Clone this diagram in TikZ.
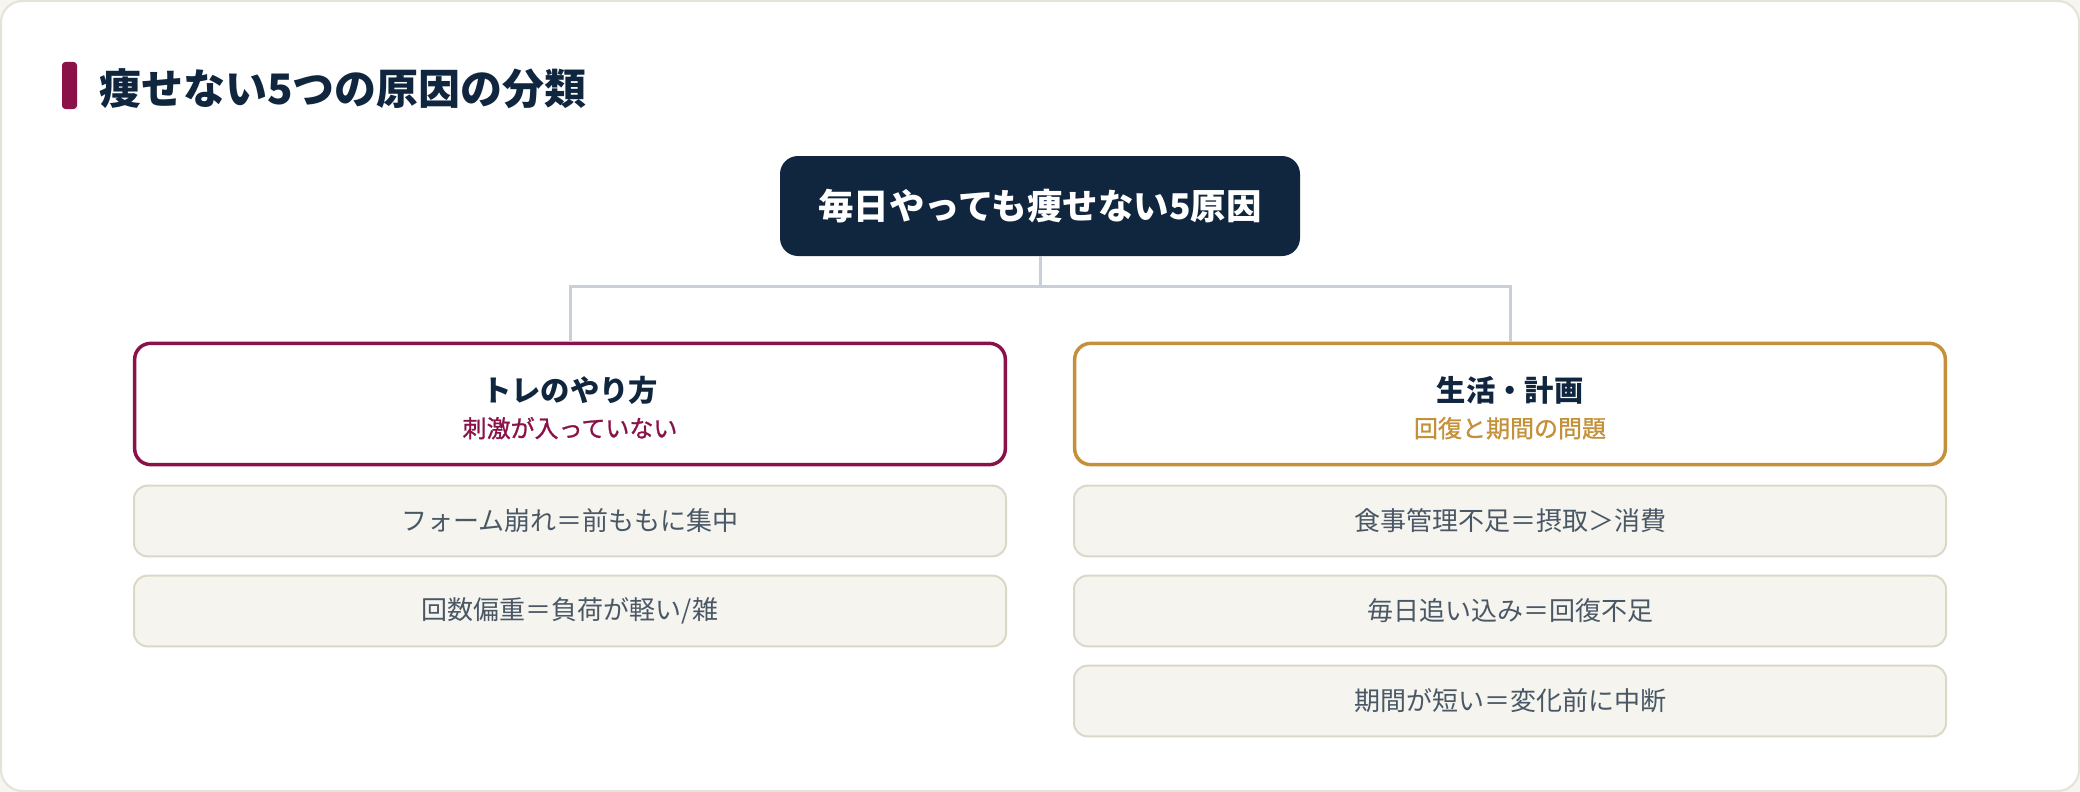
\documentclass[tikz,border=0pt]{standalone}
\usepackage{fontspec}
\setmainfont{Noto Sans CJK JP}
\newfontfamily\subfont{Noto Sans CJK JP}[FakeBold=1]
\usetikzlibrary{positioning}
\definecolor{navy}{HTML}{10263F}
\definecolor{maroon}{HTML}{8A1248}
\definecolor{gold}{HTML}{C4903A}
\definecolor{linkgray}{HTML}{C8CFD9}
\definecolor{itemfill}{HTML}{F5F4EF}
\definecolor{itemdraw}{HTML}{DCD8C8}
\definecolor{itemtext}{HTML}{4A5866}
\definecolor{framecol}{HTML}{E5E3D7}
\definecolor{pagebg}{HTML}{F6F5F0}
\begin{document}
\begin{tikzpicture}[x=0.75pt, y=-0.75pt, node distance=67.5pt,
root/.style = {fill=navy, rounded corners=13.5pt, minimum width=390pt, minimum height=75pt, text=white, font=\fontsize{26.6}{30}\selectfont\bfseries},
cat/.style = {draw, fill=white, rounded corners=12pt, minimum width=653pt, minimum height=91pt, align=center, line width=2.6pt, text=navy, font=\fontsize{22}{27}\selectfont\bfseries},
item/.style = {draw=itemdraw, fill=itemfill, rounded corners=10pt, minimum width=654pt, minimum height=53pt, line width=1.5pt, text=itemtext, font=\fontsize{19.5}{24}\selectfont},
link/.style = {draw=linkgray, line width=2.25pt}]
    \useasboundingbox (0,0) rectangle (2080,792);
    \fill[pagebg] (0,0) rectangle (2080,792);
    \draw[framecol, fill=white, line width=1.5pt, rounded corners=16pt] (1,1) rectangle (2079,791);

    % heading
    \fill[maroon, rounded corners=2.5pt] (62,62) rectangle (77,109);
    \node[anchor=west, inner sep=0pt, text=navy, font=\fontsize{31.5}{36}\selectfont\bfseries] (0) at (99,89) {痩せない5つの原因の分類};

    \node[root] (1) at (1040,206) {毎日やっても痩せない5原因};
    \node[cat, draw=maroon] (2) at (570,404) {\rule{0pt}{24.5pt}トレのやり方\\{\subfont\mdseries\fontsize{18}{22}\selectfont\color{maroon}刺激が入っていない}};
    \node[cat, draw=gold] (3) at (1510,404) {\rule{0pt}{24.5pt}生活・計画\\{\subfont\mdseries\fontsize{18}{22}\selectfont\color{gold}回復と期間の問題}};

    \node[item] (4) [below of=2, node distance=87.75pt] {フォーム崩れ＝前ももに集中};
    \node[item] (5) [below of=4] {回数偏重＝負荷が軽い/雑};

    \node[item] (6) [below of=3, node distance=87.75pt] {食事管理不足＝摂取＞消費};
    \node[item] (7) [below of=6] {毎日追い込み＝回復不足};
    \node[item] (8) [below of=7] {期間が短い＝変化前に中断};

    \coordinate (9) at (1040,286);
    \draw[link] (1) -- (9);
    \draw[link] (9) -| (2);
    \draw[link] (9) -| (3);

\end{tikzpicture}
\end{document}
